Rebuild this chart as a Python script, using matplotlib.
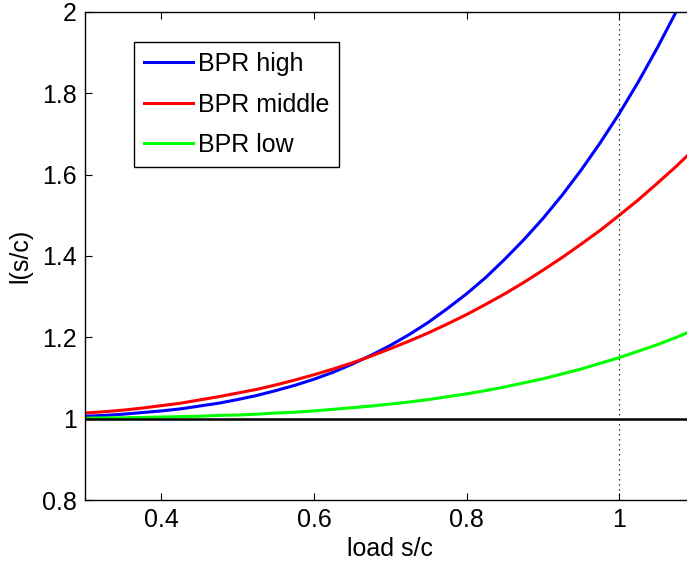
import matplotlib
matplotlib.use("Agg")
import matplotlib.pyplot as plt

# load values (s/c) and travel-time ratio
load = [0.300, 0.325, 0.350, 0.375, 0.400, 0.425, 0.450, 0.475, 0.500, 0.525,
        0.550, 0.575, 0.600, 0.625, 0.650, 0.675, 0.700, 0.725, 0.750, 0.775,
        0.800, 0.825, 0.850, 0.875, 0.900, 0.925, 0.950, 0.975, 1.000, 1.025,
        1.050, 1.075, 1.090]
bpr_high = [1.006, 1.008, 1.011, 1.015, 1.019, 1.024, 1.031, 1.038, 1.047, 1.057,
            1.069, 1.082, 1.097, 1.114, 1.134, 1.156, 1.180, 1.207, 1.237, 1.271,
            1.307, 1.347, 1.392, 1.440, 1.492, 1.549, 1.611, 1.678, 1.750, 1.828,
            1.912, 2.002, 2.059]
bpr_middle = [1.014, 1.017, 1.021, 1.026, 1.032, 1.038, 1.046, 1.054, 1.063, 1.072,
              1.083, 1.095, 1.108, 1.122, 1.137, 1.154, 1.172, 1.191, 1.211, 1.233,
              1.256, 1.281, 1.307, 1.335, 1.365, 1.396, 1.429, 1.463, 1.500, 1.538,
              1.579, 1.621, 1.648]
bpr_low = [1.001, 1.002, 1.002, 1.003, 1.004, 1.005, 1.006, 1.008, 1.009, 1.011,
           1.014, 1.016, 1.019, 1.023, 1.027, 1.031, 1.036, 1.041, 1.047, 1.054,
           1.061, 1.069, 1.078, 1.088, 1.098, 1.110, 1.122, 1.136, 1.150, 1.166,
           1.182, 1.200, 1.212]

x_ticks = [0.4, 0.6, 0.8, 1.0]
x_labels = ["0.4", "0.6", "0.8", "1"]
y_ticks = [0.8, 1.0, 1.2, 1.4, 1.6, 1.8, 2.0]
y_labels = ["0.8", "1", "1.2", "1.4", "1.6", "1.8", "2"]

plt.rcParams['font.family'] = ['Liberation Sans', 'DejaVu Sans']
plt.rcParams['font.size'] = 18

fig = plt.figure(figsize=(6.87, 5.63), dpi=100)
ax = fig.add_axes([0.1237, 0.1119, 0.8887, 0.8668])

ax.plot(load, bpr_high, color="#0000ff", lw=2.2, label="BPR high")
ax.plot(load, bpr_middle, color="#ff0000", lw=2.2, label="BPR middle")
ax.plot(load, bpr_low, color="#00ff00", lw=2.2, label="BPR low")
ax.axhline(1.0, color="black", lw=1.8)
ax.axvline(1.0, color="black", lw=0.9, ls=(0, (1, 3)))

ax.set_xlim(0.3, 1.1)
ax.set_ylim(0.8, 2.0)
ax.set_xticks(x_ticks)
ax.set_xticklabels(x_labels)
ax.set_yticks(y_ticks)
ax.set_yticklabels(y_labels)
ax.tick_params(direction="in", length=5, top=True, right=True, width=0.8, pad=6)
for s in ax.spines.values():
    s.set_linewidth(1.0)

ax.set_xlabel("load s/c", labelpad=3)
ax.set_ylabel("l(s/c)", labelpad=7)

leg = ax.legend(loc="upper left", bbox_to_anchor=(0.08, 0.9385), borderaxespad=0,
                fancybox=False, framealpha=1, edgecolor="black",
                handlelength=1.95, handletextpad=0.2, labelspacing=0.66,
                borderpad=0.4, fontsize=18)
leg.get_frame().set_linewidth(1.0)

fig.savefig("out.png", dpi=100)
